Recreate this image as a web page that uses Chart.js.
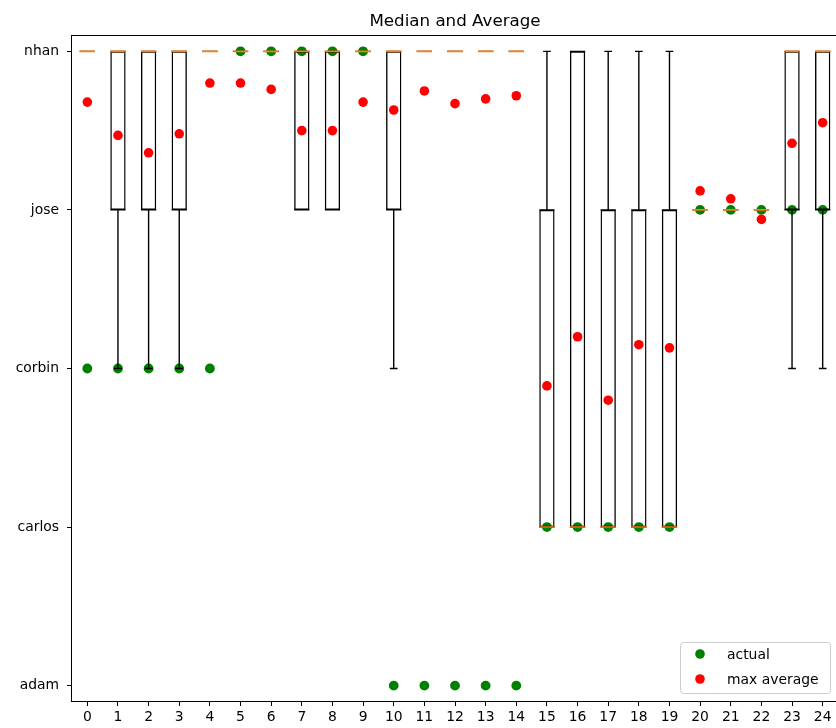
<!DOCTYPE html>
<html>
<head>
<meta charset="utf-8">
<script src="https://cdn.jsdelivr.net/npm/chart.js@4.4.1/dist/chart.umd.min.js"></script>
<style>
  html, body { margin: 0; padding: 0; overflow: hidden; background: #fff; }
  #wrap { width: 836px; height: 728px; overflow: hidden; position: relative; }
  #c { display: block; }
</style>
</head>
<body>
<div id="wrap"><canvas id="c" width="840" height="728"></canvas></div>
<script>
// Names on the y axis, indexed 0..4
const names = ['adam', 'carlos', 'corbin', 'jose', 'nhan'];
// Entry index along the x axis
const positions = [0,1,2,3,4,5,6,7,8,9,10,11,12,13,14,15,16,17,18,19,20,21,22,23,24];

// Box statistics per entry (values are name indices)
const q1     = [4,3,3,3,4,4,4,3,3,4,3,4,4,4,4,1,1,1,1,1,3,3,3,3,3];
const q3     = [4,4,4,4,4,4,4,4,4,4,4,4,4,4,4,3,4,3,3,3,3,3,3,4,4];
const median = [4,4,4,4,4,4,4,4,4,4,4,4,4,4,4,1,1,1,1,1,3,3,3,4,4];
const whisLo = [4,2,2,2,4,4,4,3,3,4,2,4,4,4,4,1,1,1,1,1,3,3,3,2,2];
const whisHi = [4,4,4,4,4,4,4,4,4,4,4,4,4,4,4,4,4,4,4,4,3,3,3,4,4];

// Point series
const actual     = [2,2,2,2,2,4,4,4,4,4,0,0,0,0,0,1,1,1,1,1,3,3,3,3,3];
const maxAverage = [3.68,3.47,3.36,3.48,3.80,3.80,3.76,3.50,3.50,3.68,3.63,3.75,3.67,3.70,3.72,
                    1.89,2.20,1.80,2.15,2.13,3.12,3.07,2.94,3.42,3.55];

const BOX_W = 0.5, CAP_W = 0.25;

// Build broken-line data: each segment followed by a gap point
function segments(list) {
  const out = [];
  list.forEach(s => {
    out.push({x: s[0], y: s[1]}, {x: s[2], y: s[3]}, {x: s[2], y: null});
  });
  return out;
}
const whiskerSegs = [];
const capSegs = [];
const medianSegs = [];
positions.forEach((p, i) => {
  if (whisLo[i] < q1[i]) whiskerSegs.push([p, q1[i], p, whisLo[i]]);
  if (whisHi[i] > q3[i]) whiskerSegs.push([p, q3[i], p, whisHi[i]]);
  capSegs.push([p - CAP_W / 2, whisLo[i], p + CAP_W / 2, whisLo[i]]);
  capSegs.push([p - CAP_W / 2, whisHi[i], p + CAP_W / 2, whisHi[i]]);
  // box edges, so collapsed boxes still show their outline
  capSegs.push([p - BOX_W / 2, q1[i], p + BOX_W / 2, q1[i]]);
  capSegs.push([p - BOX_W / 2, q3[i], p + BOX_W / 2, q3[i]]);
  medianSegs.push([p - BOX_W / 2, median[i], p + BOX_W / 2, median[i]]);
});

const FONT = '"DejaVu Sans", "Liberation Sans", sans-serif';
const GREEN = '#008000', RED = '#ff0000';

// Axes frame, title and in-plot legend
const decorations = {
  id: 'decorations',
  afterDatasetsDraw(chart) {
    const {ctx, chartArea: a} = chart;
    ctx.save();
    ctx.strokeStyle = '#000';
    ctx.lineWidth = 1;
    ctx.strokeRect(a.left - 0.5, a.top + 0.5, a.right - a.left, a.bottom - a.top);
    ctx.restore();
  },
  afterDraw(chart) {
    const {ctx, chartArea: a} = chart;
    ctx.save();
    ctx.fillStyle = '#000';
    ctx.font = '16.7px ' + FONT;
    ctx.textAlign = 'center';
    ctx.textBaseline = 'alphabetic';
    ctx.fillText('Median and Average', (a.left + a.right) / 2, 25.5);

    const items = [
      {label: 'actual', color: GREEN},
      {label: 'max average', color: RED}
    ];
    const bw = 150, bh = 51;
    const bx = a.right - 8 - bw, by = a.bottom - 8 - bh;
    ctx.beginPath();
    ctx.roundRect(bx + 0.5, by + 0.5, bw, bh, 3);
    ctx.fillStyle = 'rgba(255,255,255,0.8)';
    ctx.fill();
    ctx.strokeStyle = '#cccccc';
    ctx.lineWidth = 1;
    ctx.stroke();
    ctx.font = '13.9px ' + FONT;
    ctx.textAlign = 'left';
    ctx.textBaseline = 'middle';
    items.forEach((it, k) => {
      const cy = by + 12 + k * 25;
      ctx.beginPath();
      ctx.arc(bx + 20, cy, 4.8, 0, Math.PI * 2);
      ctx.fillStyle = it.color;
      ctx.fill();
      ctx.fillStyle = '#000';
      ctx.fillText(it.label, bx + 47, cy + 1);
    });
    ctx.restore();
  }
};

new Chart(document.getElementById('c'), {
  type: 'bar',
  data: {
    datasets: [
      {
        type: 'scatter', label: 'actual', order: 10,
        data: positions.map((p, i) => ({x: p, y: actual[i]})),
        backgroundColor: GREEN, borderWidth: 0, pointRadius: 4.9, pointHoverRadius: 4.9
      },
      {
        type: 'scatter', label: 'max average', order: 9,
        data: positions.map((p, i) => ({x: p, y: maxAverage[i]})),
        backgroundColor: RED, borderWidth: 0, pointRadius: 4.8, pointHoverRadius: 4.8
      },
      {
        type: 'bar', label: 'box', order: 3,
        data: positions.map((p, i) => ({x: p, y: [q1[i], q3[i]]})),
        backgroundColor: 'rgba(0,0,0,0)', borderColor: '#000', borderWidth: 1.4,
        borderSkipped: false, barPercentage: BOX_W, categoryPercentage: 1
      },
      {
        type: 'line', label: 'whiskers', order: 2,
        data: segments(whiskerSegs), spanGaps: false,
        borderColor: '#000', borderWidth: 1.4, pointRadius: 0, fill: false
      },
      {
        type: 'line', label: 'caps', order: 2,
        data: segments(capSegs), spanGaps: false,
        borderColor: '#000', borderWidth: 1.4, pointRadius: 0, fill: false
      },
      {
        type: 'line', label: 'medians', order: 1,
        data: segments(medianSegs), spanGaps: false,
        borderColor: '#ff7f0e', borderWidth: 1.6, pointRadius: 0, fill: false
      }
    ]
  },
  options: {
    responsive: false,
    animation: false,
    events: [],
    layout: { autoPadding: false, padding: { top: 35, right: 2, left: 0, bottom: 0 } },
    plugins: {
      legend: { display: false },
      title: { display: false },
      tooltip: { enabled: false }
    },
    scales: {
      x: {
        type: 'linear',
        min: -0.5, max: 24.5,
        offset: false,
        afterBuildTicks: s => { s.ticks = positions.map(v => ({value: v})); },
        afterFit: s => { s.height = 27; s.paddingLeft = 0; s.paddingRight = 0; },
        ticks: {
          color: '#000', font: {family: FONT, size: 13.9},
          padding: 3, maxRotation: 0, autoSkip: false,
          callback: v => String(v)
        },
        grid: { display: true, offset: false, drawOnChartArea: false, drawTicks: true, tickLength: 5, color: '#000', tickWidth: 1 },
        border: { display: false }
      },
      y: {
        type: 'linear',
        min: -0.097, max: 4.103,
        afterBuildTicks: s => { s.ticks = names.map((_, i) => ({value: i})); },
        afterFit: s => { s.width = 72; s.paddingTop = 0; s.paddingBottom = 0; },
        ticks: {
          color: '#000', font: {family: FONT, size: 13.9},
          padding: 8, autoSkip: false,
          callback: v => names[v] ?? ''
        },
        grid: { display: true, offset: false, drawOnChartArea: false, drawTicks: true, tickLength: 5, color: '#000', tickWidth: 1 },
        border: { display: false }
      }
    }
  },
  plugins: [decorations]
});
</script>
</body>
</html>
